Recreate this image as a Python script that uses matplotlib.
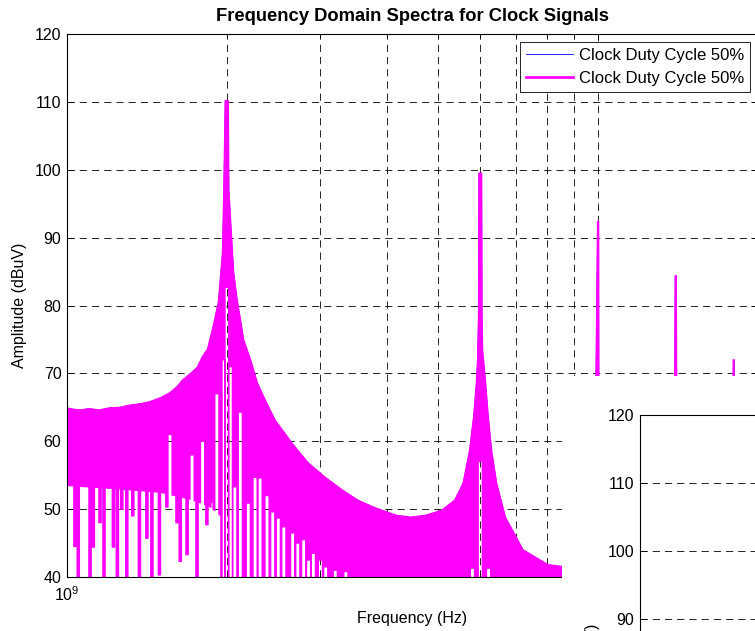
import numpy as np
import matplotlib
matplotlib.use("Agg")
import matplotlib.pyplot as plt
from matplotlib.patches import Rectangle
from matplotlib.lines import Line2D
from matplotlib.ticker import LogLocator, NullFormatter, FixedLocator

plt.rcParams['font.family'] = ['Liberation Sans', 'DejaVu Sans']
plt.rcParams['mathtext.fontset'] = 'custom'
plt.rcParams['mathtext.rm'] = 'Liberation Sans'
plt.rcParams['mathtext.it'] = 'Liberation Sans:italic'
plt.rcParams['mathtext.bf'] = 'Liberation Sans:bold'
plt.rcParams['lines.scale_dashes'] = False

FS = 11.5

# ---------------------------------------------------------------- data
series_labels = ["Clock Duty Cycle 50%", "Clock Duty Cycle 50%"]

# upper envelope of the dense spectrum (GHz, dBuV)
upper_ghz = [1.000, 1.030, 1.060, 1.100, 1.150, 1.200, 1.260, 1.310, 1.370, 1.430,
             1.500, 1.560, 1.610, 1.650, 1.710, 1.760, 1.800, 1.840, 1.886, 1.928,
             1.962, 1.973, 1.986, 2.012, 2.017, 2.046, 2.060, 2.091, 2.121, 2.151,
             2.216, 2.282, 2.370, 2.465, 2.653, 2.845, 3.060, 3.300, 3.530, 3.800,
             4.160, 4.440, 4.740, 5.070, 5.370, 5.570, 5.730, 5.830, 5.900, 5.930,
             5.955, 5.965, 6.035, 6.045, 6.060, 6.140, 6.210, 6.300, 6.440, 6.690,
             7.220, 8.050, 8.630, 9.300, 9.800, 9.900, 9.920, 9.978, 10.022, 10.030,
             10.200, 10.800, 12.500, 13.600, 13.930, 13.945, 13.970, 14.030, 14.050, 14.070,
             14.400, 16.000, 17.500, 17.950, 17.970, 18.030, 18.050, 18.300, 20.000]
upper_dbuv = [64.9, 64.7, 64.6, 64.8, 64.6, 64.9, 65.0, 65.3, 65.5, 65.8,
              66.4, 67.1, 68.0, 69.0, 70.0, 70.9, 72.5, 73.6, 77.0, 80.5,
              87.7, 96.0, 110.2, 110.2, 97.0, 88.6, 84.8, 80.8, 77.9, 74.9,
              72.0, 68.6, 65.8, 63.1, 59.7, 56.8, 54.7, 52.8, 51.3, 50.2,
              49.1, 48.8, 49.1, 49.8, 51.3, 53.8, 58.7, 63.6, 68.6, 72.0,
              78.3, 99.5, 99.5, 78.3, 73.4, 68.6, 63.6, 58.7, 53.8, 48.8,
              44.0, 41.8, 41.5, 43.0, 52.0, 68.0, 73.0, 92.4, 92.4, 68.0,
              52.0, 43.0, 42.0, 48.0, 68.0, 71.2, 84.4, 84.4, 71.2, 68.0,
              48.0, 41.0, 46.0, 68.0, 72.0, 72.0, 68.0, 48.0, 41.0]

# lower edge of the solid band of oscillation minima (GHz, dBuV)
floor_ghz = [1.000, 1.250, 1.500, 1.700, 1.850, 1.950, 1.985, 20.000]
floor_dbuv = [53.5, 53.0, 52.5, 51.5, 50.5, 49.0, 38.0, 38.0]

# deep minima reaching below the band (GHz, dBuV)
spike_ghz = [1.035, 1.050, 1.105, 1.121, 1.154, 1.174, 1.223, 1.244, 1.268, 1.296,
             1.330, 1.369, 1.414, 1.445, 1.493, 1.542, 1.611, 1.634, 1.683, 1.757,
             1.834, 1.875, 1.958]
spike_dbuv = [44.5, 38.0, 38.0, 44.4, 48.0, 38.0, 44.4, 38.0, 50.0, 38.0,
              49.0, 38.0, 45.7, 38.0, 40.3, 50.3, 48.0, 42.3, 43.3, 38.0,
              47.7, 51.0, 38.0]

# gaps between oscillation lobes, open from the bottom (GHz, dBuV)
notch_ghz = [1.563, 1.720, 1.800, 1.915, 1.967, 2.000, 2.030, 2.070, 2.120, 2.195,
             2.260, 2.310, 2.380, 2.440, 2.500, 2.560, 2.660, 2.720, 2.790, 2.850,
             2.910, 3.000, 3.070, 3.200, 3.350, 5.800, 6.000, 6.220]
notch_dbuv = [61.0, 58.0, 60.0, 67.0, 72.0, 82.7, 71.0, 53.3, 64.3, 50.9,
              54.7, 54.6, 52.0, 49.6, 48.7, 47.4, 46.5, 45.0, 45.5, 42.5,
              43.5, 42.5, 41.5, 41.0, 40.8, 41.3, 57.0, 41.3]

y_ticks = [40, 50, 60, 70, 80, 90, 100, 110, 120]
inset_y_ticks = [40, 50, 60, 70, 80, 90, 100, 110, 120]

# ---------------------------------------------------------------- geometry
W, H = 755, 631
SPIKE_HW = 10 ** (1.1 / 530)   # half width of a minimum, log-frequency factor
NOTCH_HW = 10 ** (2.1 / 530)


def lower_edge():
    lf = np.log10(floor_ghz)

    def floor_at(f):
        return float(np.interp(np.log10(f), lf, floor_dbuv))

    spans = [(f / SPIKE_HW, f * SPIKE_HW, v) for f, v in zip(spike_ghz, spike_dbuv)]
    spans += [(f / NOTCH_HW, f * NOTCH_HW, v) for f, v in zip(notch_ghz, notch_dbuv)]
    spans.sort()
    for i in range(1, len(spans)):
        a, b, v = spans[i]
        pa, pb, pv = spans[i - 1]
        if a < pb:
            m = np.sqrt(a * pb)
            spans[i - 1] = (pa, m, pv)
            spans[i] = (m, b, v)
    fl = list(zip(floor_ghz, floor_dbuv))
    verts, j = [], 0
    for a, b, v in spans:
        while j < len(fl) and fl[j][0] < a:
            verts.append(fl[j])
            j += 1
        verts += [(a, floor_at(a)), (a, v), (b, v), (b, floor_at(b))]
        while j < len(fl) and fl[j][0] <= b:
            j += 1
    verts += fl[j:]
    return np.array(verts)


lo = lower_edge()
poly_x = np.concatenate([np.array(upper_ghz), lo[::-1, 0]]) * 1e9
poly_y = np.concatenate([np.array(upper_dbuv), lo[::-1, 1]])

# ---------------------------------------------------------------- figure
fig = plt.figure(figsize=(W / 100, H / 100), dpi=100)
fig.patch.set_facecolor('white')

ax = fig.add_axes([67 / W, 1 - 577 / H, 691 / W, 543 / H])


def style_axes(a):
    a.set_xscale('log')
    a.set_xlim(1e9, 2e10)
    a.set_ylim(40, 120)
    a.xaxis.set_major_locator(LogLocator(base=10, subs=(1.0,)))
    a.xaxis.set_minor_locator(LogLocator(base=10, subs=tuple(range(2, 10))))
    a.xaxis.set_minor_formatter(NullFormatter())
    a.set_axisbelow(True)
    grid_kw = dict(color='black', linewidth=0.6, linestyle=(0, (5.2, 3.6)))
    a.grid(True, which='major', axis='both', **grid_kw)
    a.grid(True, which='minor', axis='x', **grid_kw)
    a.tick_params(which='both', direction='in', top=True, right=True,
                  labelsize=FS, width=0.6, colors='black')
    a.tick_params(which='major', length=5)
    a.tick_params(which='minor', length=3)
    a.tick_params(axis='y', pad=4)
    a.tick_params(axis='x', pad=6)
    for s in a.spines.values():
        s.set_linewidth(0.8)
        s.set_color('black')


style_axes(ax)
ax.yaxis.set_major_locator(FixedLocator(y_ticks))

# first clock trace (underneath) and second clock trace
ax.plot(np.array(upper_ghz) * 1e9, upper_dbuv, color=(0, 0, 1), linewidth=0.5, zorder=1.8)
ax.fill(poly_x, poly_y, facecolor=(1, 0, 1), edgecolor=(1, 0, 1), linewidth=1.0, zorder=2)

ax.set_title("Frequency Domain Spectra for Clock Signals", fontsize=13.2,
             fontweight='bold', pad=9.4)
ax.set_xlabel("Frequency (Hz)", fontsize=FS)
ax.set_ylabel("Amplitude (dBuV)", fontsize=FS)
ax.xaxis.set_label_coords(0.5, -(611 - 577) / 543)
ax.yaxis.set_label_coords(-(67 - 27) / 691, 0.5)

handles = [Line2D([], [], color=(0, 0, 1), linewidth=0.6),
           Line2D([], [], color=(1, 0, 1), linewidth=2.0)]
leg = ax.legend(handles, series_labels, loc='upper right',
                bbox_to_anchor=(750 / W, 1 - 42.5 / H), bbox_transform=fig.transFigure,
                fontsize=12, frameon=True, fancybox=False, framealpha=1,
                edgecolor='black', handlelength=2.82, handletextpad=0.36,
                borderpad=0.35, labelspacing=0.45, borderaxespad=0)
leg.get_frame().set_linewidth(0.6)

# overlapping window region
fig.add_artist(Rectangle((562 / W, 0), 1 - 562 / W, 1 - 376 / H,
                         transform=fig.transFigure, facecolor='white',
                         edgecolor='none', zorder=2))

inset = fig.add_axes([640 / W, 1 - 958 / H, 691 / W, 543 / H], zorder=3)
style_axes(inset)
inset.yaxis.set_major_locator(FixedLocator(inset_y_ticks))
inset.set_ylabel("Amplitude (dBuV)", fontsize=FS)
inset.yaxis.set_label_coords(-(67 - 27) / 691, 0.5)

fig.savefig("out.png", dpi=100)
